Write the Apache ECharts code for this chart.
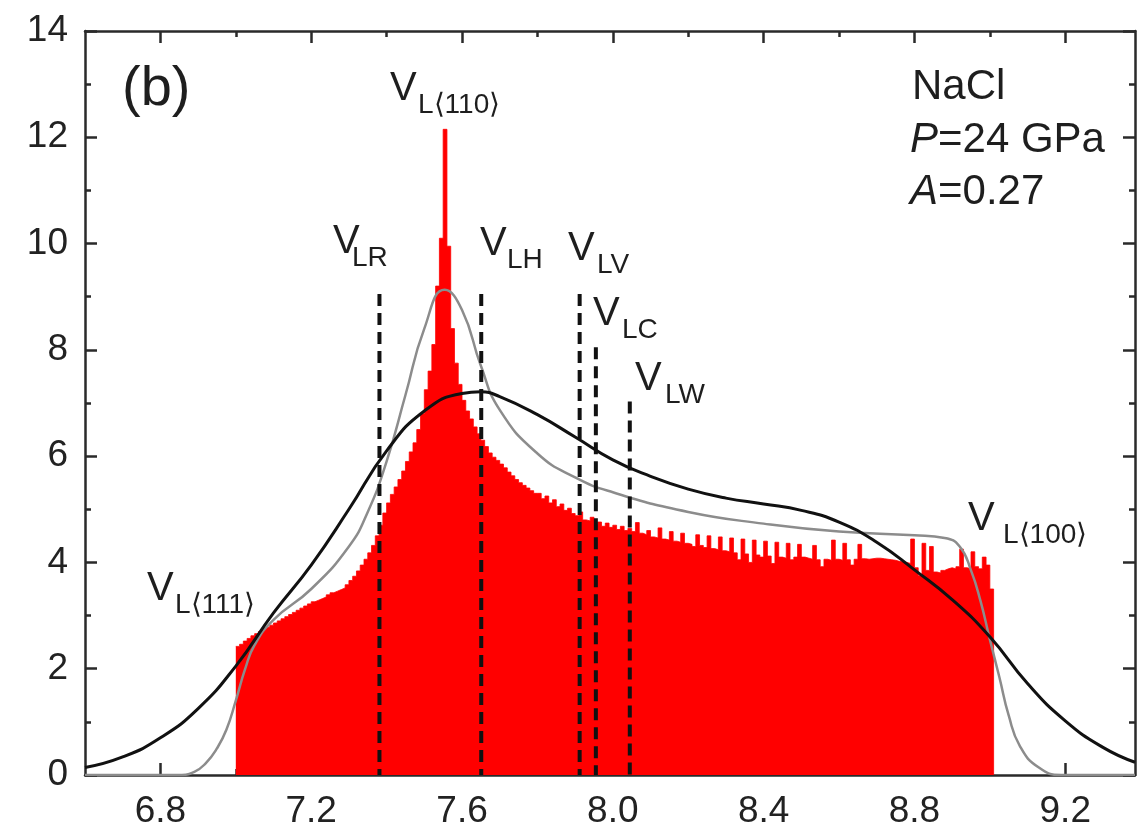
<!DOCTYPE html>
<html><head><meta charset="utf-8">
<script src="https://cdn.jsdelivr.net/npm/echarts@6/dist/echarts.min.js"></script>
<style>html,body{margin:0;padding:0;background:#fff}#c{width:1139px;height:838px}</style>
</head><body><div id="c"></div>
<script>
// ---------- data ----------
const histStart = 7.00;
const histBinWidth = 0.01;
const histValues = [
  2.42, 2.46, 2.52, 2.57, 2.62, 2.66, 2.70, 2.74, 2.78, 2.82,
  2.86, 2.90, 2.94, 2.98, 3.02, 3.06, 3.10, 3.14, 3.18, 3.22,
  3.26, 3.29, 3.32, 3.35, 3.39, 3.43, 3.46, 3.49, 3.52, 3.58,
  3.66, 3.74, 3.84, 3.95, 4.06, 4.18, 4.32, 4.50, 4.70, 4.93,
  5.12, 5.28, 5.42, 5.56, 5.72, 5.90, 6.08, 6.25, 6.50, 6.80,
  7.25, 7.60, 8.10, 9.20, 10.10, 12.15, 9.95, 8.40, 7.75, 7.35,
  7.05, 6.85, 6.70, 6.55, 6.42, 6.30, 6.18, 6.06, 5.98, 5.92,
  5.85, 5.78, 5.70, 5.63, 5.56, 5.50, 5.45, 5.40, 5.35, 5.30,
  5.30, 5.20, 5.25, 5.12, 5.18, 5.05, 5.10, 4.98, 5.02, 4.92,
  4.88, 4.95, 4.80, 4.78, 4.85, 4.72, 4.76, 4.68, 4.74, 4.66,
  4.70, 4.62, 4.68, 4.60, 4.64, 4.58, 4.75, 4.55, 4.52, 4.60,
  4.48, 4.46, 4.65, 4.44, 4.42, 4.58, 4.40, 4.38, 4.55, 4.36,
  4.34, 4.30, 4.52, 4.32, 4.28, 4.50, 4.26, 4.24, 4.48, 4.22,
  4.20, 4.46, 4.18, 4.05, 4.44, 4.16, 4.00, 4.42, 4.14, 4.10,
  4.40, 4.12, 3.98, 4.38, 4.10, 4.08, 4.36, 4.05, 4.10, 4.34,
  4.10, 4.08, 4.06, 4.32, 4.05, 3.92, 4.06, 4.04, 4.42, 4.06,
  4.04, 4.36, 4.05, 3.95, 4.06, 4.34, 4.07, 4.06, 4.07, 4.08,
  4.08, 4.07, 4.06, 4.05, 4.04, 4.02, 4.01, 4.00, 3.98, 4.44,
  3.90, 3.75, 4.36, 3.85, 4.30, 3.82, 3.80, 3.85, 3.88, 3.90,
  3.88, 3.92, 4.25, 3.90, 3.88, 4.20, 3.92, 3.88, 4.10, 3.95,
  3.50
];
const blackCurve = [
  [6.6, 0.14], [6.7, 0.34], [6.8, 0.70], [6.9, 1.25], [7.0, 2.05],
  [7.1, 3.05], [7.2, 3.95], [7.3, 5.00], [7.4, 6.10], [7.5, 6.85],
  [7.6, 7.18], [7.65, 7.21], [7.7, 7.12], [7.8, 6.78], [7.9, 6.36],
  [8.0, 5.93], [8.1, 5.62], [8.2, 5.38], [8.3, 5.21], [8.4, 5.10],
  [8.5, 4.98], [8.6, 4.76], [8.7, 4.38], [8.8, 3.86], [8.9, 3.30],
  [9.0, 2.60], [9.1, 1.72], [9.2, 1.02], [9.3, 0.52], [9.385, 0.24]
];
const grayCurve = [
  [6.6, 0], [6.85, 0], [6.89, 0.06], [6.92, 0.22], [6.95, 0.50],
  [6.975, 0.85], [7.0, 1.40], [7.025, 2.00], [7.05, 2.45], [7.1, 2.92],
  [7.2, 3.50], [7.3, 4.30], [7.35, 4.95], [7.4, 5.90], [7.45, 7.15],
  [7.5, 8.40], [7.554, 9.13], [7.6, 8.75], [7.65, 7.70], [7.7, 6.87],
  [7.8, 6.05], [7.9, 5.60], [8.0, 5.32], [8.2, 4.95], [8.4, 4.73],
  [8.6, 4.58], [8.8, 4.51], [8.88, 4.46], [8.92, 4.30], [8.95, 3.85],
  [8.975, 3.28], [9.0, 2.55], [9.025, 1.85], [9.05, 1.12], [9.08, 0.54],
  [9.13, 0.14], [9.19, 0], [9.385, 0]
];
const refNames = ['LR', 'LH', 'LV', 'LC', 'LW'];
const refX = [7.381, 7.651, 7.912, 7.955, 8.045];
const refTop = [9.05, 9.05, 9.05, 8.05, 7.03];
const xMajorTicks = [6.8, 7.2, 7.6, 8.0, 8.4, 8.8, 9.2];
const xMinorTicks = [7.0, 7.4, 7.8, 8.2, 8.6, 9.0];
const xMin = 6.6, xMax = 9.385, yMin = 0, yMax = 14, yStep = 2;

// ---------- chart ----------
const histPts = histValues.map((v, i) => [histStart + i * histBinWidth, v]);
histPts.push([histStart + histValues.length * histBinWidth, 0]);

const AX = '#2a2a2a';
const FONT = '"Liberation Sans", Arial, sans-serif';
function xAx(pos, ticks, len, showLine, showLabel) {
  return {
    type: 'value', position: pos, min: xMin, max: xMax,
    axisLine: { show: showLine, onZero: false, lineStyle: { color: AX, width: 2.5 } },
    axisTick: { show: true, inside: true, length: len, customValues: ticks, lineStyle: { color: AX, width: 2.5 } },
    axisLabel: showLabel ? { show: true, customValues: ticks, formatter: v => Number(v).toFixed(1),
      margin: 18, color: '#222', fontSize: 37, fontFamily: FONT } : { show: false },
    splitLine: { show: false }
  };
}
function yAx(pos, showLabel) {
  return {
    type: 'value', position: pos, min: yMin, max: yMax, interval: yStep,
    axisLine: { show: true, onZero: false, lineStyle: { color: AX, width: 2.5 } },
    axisTick: { show: true, inside: true, length: 12, lineStyle: { color: AX, width: 2.5 } },
    minorTick: { show: true, splitNumber: 2, length: 6, lineStyle: { color: AX, width: 2.5 } },
    axisLabel: showLabel ? { show: true, margin: 17, color: '#222', fontSize: 37, fontFamily: FONT } : { show: false },
    splitLine: { show: false }, minorSplitLine: { show: false }
  };
}

const series = [
  { type: 'line', data: histPts, step: 'end', showSymbol: false, symbol: 'none', silent: true,
    lineStyle: { color: '#ff0000', width: 0.8 }, areaStyle: { color: '#ff0000', opacity: 1 }, z: 1 },
  { type: 'line', data: grayCurve, smooth: 0.5, symbol: 'none', silent: true,
    lineStyle: { color: '#8c8c8c', width: 2.5 }, z: 2 },
  { type: 'line', data: blackCurve, smooth: 0.5, symbol: 'none', silent: true,
    lineStyle: { color: '#111', width: 3 }, z: 3 }
];
refX.forEach((x, i) => {
  series.push({ type: 'line', name: refNames[i], data: [[x, refTop[i]], [x, 0]], symbol: 'none', silent: true,
    lineStyle: { color: '#111', width: 4, type: [12, 7] }, z: 4 });
});

const TXT = '#1e1e1e';
function t(x, y, text, size, extra) {
  return Object.assign({ type: 'text', x: x, y: y, z: 10, silent: true,
    style: Object.assign({ text: text, fill: TXT, font: size + 'px ' + FONT, textVerticalAlign: 'top' }, extra || {}) });
}
function vLabel(x, y, sub, subDx) {
  return [t(x, y - 6, 'V', 40), t(x + subDx, y + 16, sub, 28)];
}
const graphics = [
  t(122, 62, '(b)', 56),
  t(912, 66, 'NaCl', 42),
  { type: 'text', x: 910, y: 119, z: 10, silent: true,
    style: { text: '{i|P}{n|=24 GPa}', textVerticalAlign: 'top',
      rich: { i: { fill: TXT, fontSize: 42, fontStyle: 'italic', fontFamily: FONT },
              n: { fill: TXT, fontSize: 42, fontFamily: FONT } } } },
  { type: 'text', x: 910, y: 171, z: 10, silent: true,
    style: { text: '{i|A}{n|=0.27}', textVerticalAlign: 'top',
      rich: { i: { fill: TXT, fontSize: 42, fontStyle: 'italic', fontFamily: FONT },
              n: { fill: TXT, fontSize: 42, fontFamily: FONT } } } },
  ...vLabel(390, 75, 'L⟨110⟩', 28),
  ...vLabel(333, 228, 'LR', 19),
  ...vLabel(480, 230, 'LH', 27),
  ...vLabel(568, 235, 'LV', 29),
  ...vLabel(593, 300, 'LC', 29),
  ...vLabel(635, 365, 'LW', 30),
  ...vLabel(968, 505, 'L⟨100⟩', 35),
  ...vLabel(147, 575, 'L⟨111⟩', 28)
];

const chart = echarts.init(document.getElementById('c'), null, { renderer: 'canvas' });
chart.setOption({
  animation: false,
  backgroundColor: '#fff',
  grid: { left: 85, right: 4, top: 31, bottom: 63, containLabel: false },
  xAxis: [
    xAx('bottom', xMajorTicks, 12, true, true),
    xAx('bottom', xMinorTicks, 6, false, false),
    xAx('top', xMajorTicks, 12, true, false),
    xAx('top', xMinorTicks, 6, false, false)
  ],
  yAxis: [yAx('left', true), yAx('right', false)],
  series: series,
  graphic: graphics
});
</script></body></html>
